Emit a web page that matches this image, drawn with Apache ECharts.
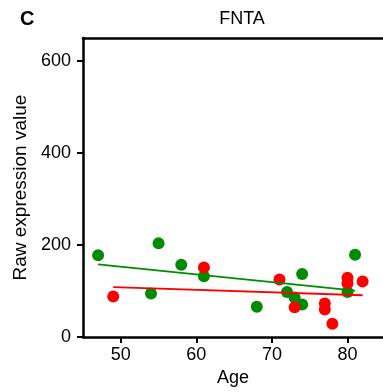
<!DOCTYPE html>
<html><head><meta charset="utf-8">
<script src="https://cdn.jsdelivr.net/npm/echarts@6/dist/echarts.min.js"></script>
<style>html,body{margin:0;padding:0;background:#fff}#c{width:383px;height:392px}</style>
</head><body><div id="c"></div>
<script>
const greenAge = [47, 54, 55, 58, 61, 68, 72, 73, 74, 74, 80, 81];
const greenVal = [178, 95, 204, 157, 132, 66, 98, 86, 137, 71, 98, 179];
const redAge = [49, 61, 71, 73, 77, 77, 78, 80, 80, 82];
const redVal = [88, 151, 125, 65, 73, 60, 29, 129, 117, 121];
const greenFitAge = [47, 81];
const greenFitVal = [158, 101];
const redFitAge = [49, 82];
const redFitVal = [108.5, 91];
const xTicks = [50, 60, 70, 80];
const yTicks = [0, 200, 400, 600];

const GREEN = '#008c00', RED = '#ff0000';
const zip = (a, b) => a.map((v, i) => [v, b[i]]);
const font = 'Liberation Sans, Arial, sans-serif';
const chart = echarts.init(document.getElementById('c'), null, {renderer: 'canvas'});
chart.setOption({
  animation: false,
  backgroundColor: '#fff',
  title: [
    {text: 'FNTA', left: 237, top: 5, textAlign: 'center',
     textStyle: {fontFamily: font, fontSize: 18, fontWeight: 'normal', color: '#000'}},
    {text: 'C', left: 15, top: 4,
     textStyle: {fontFamily: font, fontSize: 20, fontWeight: 'bold', color: '#000'}}
  ],
  grid: {left: 83, top: 38, right: 0, height: 301},
  xAxis: [{
    type: 'value', min: 45, max: 84.7,
    name: 'Age', nameLocation: 'middle', nameGap: 31,
    nameTextStyle: {fontFamily: font, fontSize: 18, color: '#000'},
    axisLine: {show: true, lineStyle: {color: '#000', width: 2.5}},
    axisTick: {show: true, length: 6, customValues: xTicks, lineStyle: {color: '#000', width: 2}},
    axisLabel: {customValues: xTicks, margin: 9, fontFamily: font, fontSize: 18, color: '#000'},
    splitLine: {show: false}
  }, {
    type: 'value', min: 45, max: 84.7, position: 'top',
    axisLine: {show: true, onZero: false, lineStyle: {color: '#000', width: 2.5}},
    axisTick: {show: false}, axisLabel: {show: false}, splitLine: {show: false}
  }],
  yAxis: {
    type: 'value', min: 0, max: 650,
    name: 'Raw expression value', nameLocation: 'middle', nameGap: 45,
    nameTextStyle: {fontFamily: font, fontSize: 19, color: '#000'},
    axisLine: {show: true, lineStyle: {color: '#000', width: 2.5}},
    axisTick: {show: true, length: 6, customValues: yTicks, lineStyle: {color: '#000', width: 2}},
    axisLabel: {customValues: yTicks, margin: 12, fontFamily: font, fontSize: 18, color: '#000'},
    splitLine: {show: false}
  },
  series: [
    {type: 'scatter', data: zip(greenAge, greenVal), symbolSize: 12,
     itemStyle: {color: GREEN, opacity: 1}, z: 2},
    {type: 'scatter', data: zip(redAge, redVal), symbolSize: 12,
     itemStyle: {color: RED, opacity: 1}, z: 3},
    {type: 'line', data: zip(greenFitAge, greenFitVal), symbol: 'none',
     lineStyle: {color: GREEN, width: 1.8}, z: 4},
    {type: 'line', data: zip(redFitAge, redFitVal), symbol: 'none',
     lineStyle: {color: RED, width: 1.8}, z: 4}
  ]
});
</script></body></html>
